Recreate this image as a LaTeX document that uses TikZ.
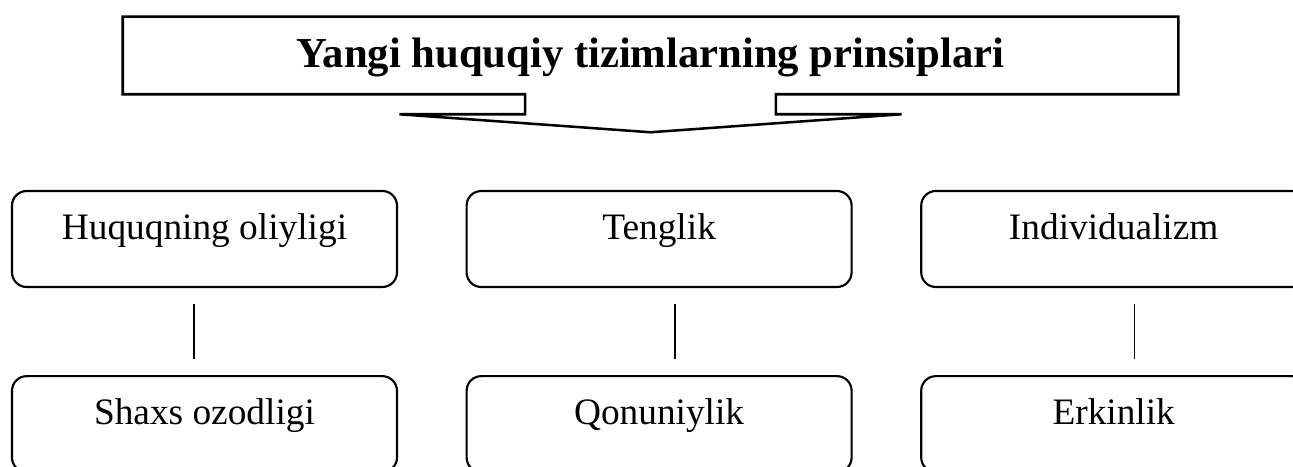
\documentclass[tikz,border=0pt]{standalone}
\usepackage{fontspec}
\setmainfont{Liberation Serif}
\usetikzlibrary{%
	calc,%
	positioning,%
}
\tikzset{
	nodes={align=center},%
	headnode/.style={%
			rectangle,%
			minimum width=791.25pt,%
			minimum height=57.75pt,%
			inner sep=0pt,%
			text height=24.3pt,%
			text depth=7pt,%
			font={\fontsize{32}{38}\selectfont\bfseries}},%
	headline/.style={%
			line width=1.9pt,%
			line join=miter},%
	princnode/.style={%
			draw,%
			rectangle,%
			line width=1.6pt,%
			rounded corners=11pt,%
			minimum width=288.75pt,%
			minimum height=72pt,%
			inner sep=0pt,%
			text height=19.6pt,%
			text depth=19.6pt,%
			font={\fontsize{28}{34}\selectfont}},%
	link/.style={%
			line width=1.1pt,%
			shorten <=12pt,%
			shorten >=12pt},%
}

\begin{document}
\begin{tikzpicture}[x=0.75pt, y=-0.75pt, node distance=65.25pt and 50.6pt]%
	\useasboundingbox (0,0) rectangle (1293,467);

	\node[headnode] (head) at (650.5,55.5) {Yangi huquqiy tizimlarning prinsiplari};
	\coordinate (stemL) at ($(head.south)+(-94.1pt,0)$);
	\coordinate (stemR) at ($(head.south)+(94.1pt,0)$);
	\coordinate (tip) at ($(head.south)+(0,-28.5pt)$);

	\node[princnode] (hq) at (204.5,239) {Huquqning oliyligi};
	\node[princnode] (tg) [right=of hq] {Tenglik};
	\node[princnode] (ind) [right=of tg] {Individualizm};
	\node[princnode] (sh) [below=of hq] {Shaxs ozodligi};
	\node[princnode] (qn) [below=of tg] {Qonuniylik};
	\node[princnode] (erk) [below=of ind] {Erkinlik};

	\draw[headline] (stemL) -- (head.south west) -- (head.north west) -- (head.north east) -- (head.south east) -- (stemR)
		-- ($(stemR)+(0,-15pt)$) -- ($(head.south)+(188.25pt,-15pt)$) -- (tip)
		-- ($(head.south)+(-188.25pt,-15pt)$) -- ($(stemL)+(0,-15pt)$) -- cycle;

	\draw[link] ([xshift=-7.9pt]hq.south) -- ([xshift=-7.9pt]sh.north);
	\draw[link] ([xshift=12pt]tg.south) -- ([xshift=12pt]qn.north);
	\draw[link] ([xshift=15.4pt]ind.south) -- ([xshift=15.4pt]erk.north);
\end{tikzpicture}
\end{document}
